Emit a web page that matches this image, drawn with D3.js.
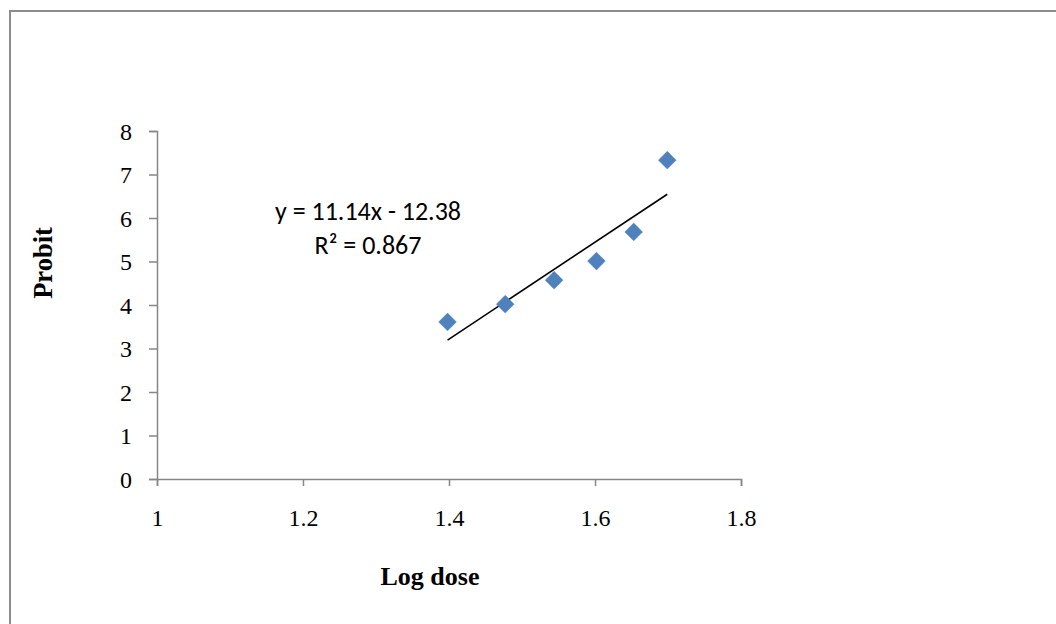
<!DOCTYPE html>
<html><head><meta charset="utf-8">
<script src="https://cdn.jsdelivr.net/npm/d3@7"></script>
<style>body{margin:0;background:#fff}svg{display:block}</style>
</head><body>
<svg id="c" width="1056" height="624"></svg>
<script>
const logDose = [1.398, 1.477, 1.544, 1.602, 1.653, 1.699];
const probit = [3.61, 4.02, 4.57, 5.01, 5.68, 7.33];
const xTicks = [1, 1.2, 1.4, 1.6, 1.8];
const yTicks = [0, 1, 2, 3, 4, 5, 6, 7, 8];
const slope = 11.14, intercept = -12.38;
const eqLines = ["y = 11.14x - 12.38", "R² = 0.867"];

const serif = "'Liberation Serif','Times New Roman',serif";
const svg = d3.select("#c");
svg.append("rect").attr("x", 10).attr("y", 11).attr("width", 1100).attr("height", 700)
  .attr("fill", "#fff").attr("stroke", "#8c8c8c").attr("stroke-width", 2);

const x = d3.scaleLinear().domain([1, 1.8]).range([157, 741]);
const y = d3.scaleLinear().domain([0, 8]).range([479, 131]);

const gx = svg.append("g").attr("transform", "translate(0,479)")
  .call(d3.axisBottom(x).tickValues(xTicks).tickSize(7).tickPadding(23).tickFormat(d3.format("")));
const gy = svg.append("g").attr("transform", "translate(157,0)")
  .call(d3.axisLeft(y).tickValues(yTicks).tickSize(8).tickPadding(17));
[gx, gy].forEach(g => {
  g.attr("font-size", null).attr("font-family", null);
  g.select(".domain").attr("stroke", "#868686").attr("stroke-width", 1.5);
  g.selectAll(".tick line").attr("stroke", "#868686").attr("stroke-width", 1.5);
  g.selectAll(".tick text").attr("fill", "#000")
    .style("font-family", serif).style("font-size", "24px");
});
gy.selectAll(".tick text").attr("dy", "0.34em");

// trendline
const x0 = d3.min(logDose), x1 = d3.max(logDose);
svg.append("line")
  .attr("x1", x(x0)).attr("y1", y(slope * x0 + intercept))
  .attr("x2", x(x1)).attr("y2", y(slope * x1 + intercept))
  .attr("stroke", "#000").attr("stroke-width", 1.6);

// markers
svg.selectAll("path.pt").data(logDose).join("path").attr("class", "pt")
  .attr("d", d3.symbol().type(d3.symbolDiamond2).size(200)())
  .attr("transform", (d, i) => `translate(${x(d)},${y(probit[i])})`)
  .attr("fill", "#4f81bd").attr("stroke", "#4a7ebb").attr("stroke-width", 0.5);

// equation
svg.selectAll("text.eq").data(eqLines).join("text").attr("class", "eq")
  .attr("x", 368).attr("y", (d, i) => 220 + i * 34)
  .attr("text-anchor", "middle")
  .style("font-family", "Carlito,Lato,'Open Sans',sans-serif").style("font-size", "26px")
  .text(d => d);

// axis titles
svg.append("text").attr("x", 430).attr("y", 585).attr("text-anchor", "middle")
  .style("font-family", serif).style("font-size", "26px").style("font-weight", "bold")
  .text("Log dose");
svg.append("text").attr("transform", "translate(52,263) rotate(-90)").attr("text-anchor", "middle")
  .style("font-family", serif).style("font-size", "26.5px").style("font-weight", "bold")
  .text("Probit");
</script>
</body></html>
